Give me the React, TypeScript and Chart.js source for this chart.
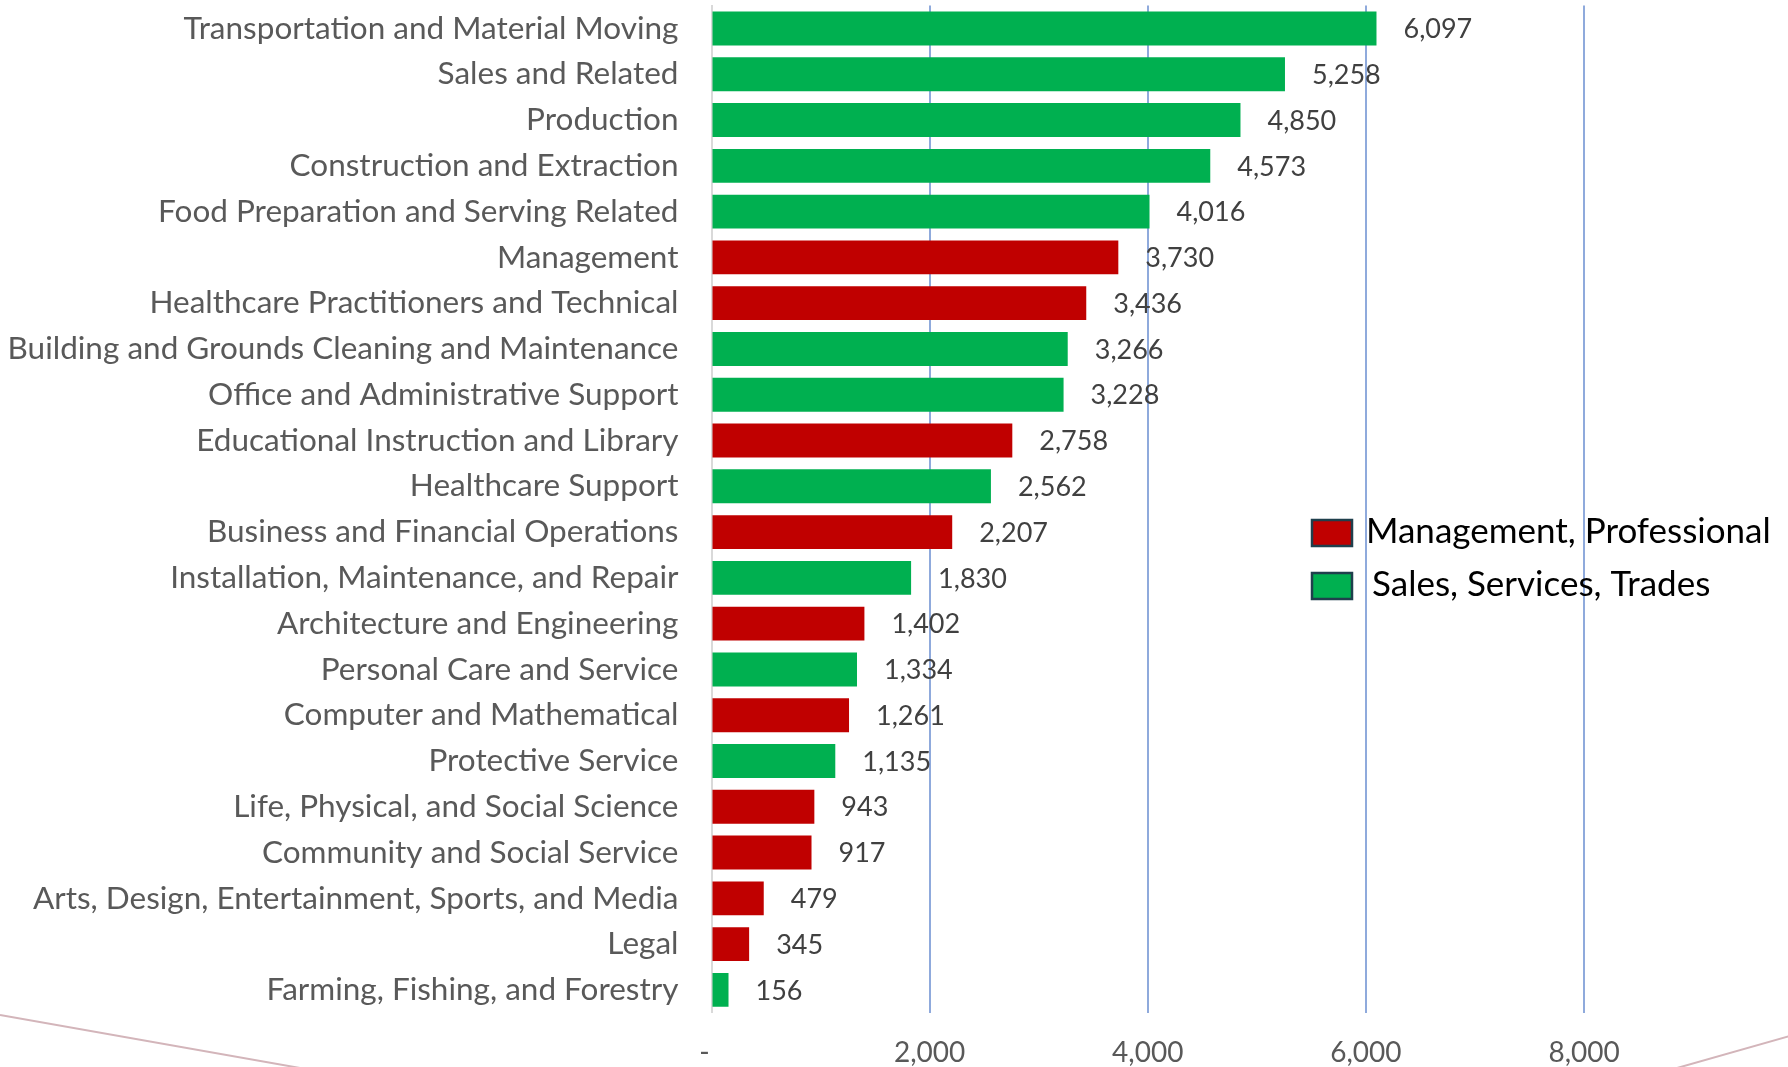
import { useEffect, useRef } from 'react';
import { Chart, registerables } from 'chart.js';

Chart.register(...registerables);

const categories = [
  'Transportation and Material Moving',
  'Sales and Related',
  'Production',
  'Construction and Extraction',
  'Food Preparation and Serving Related',
  'Management',
  'Healthcare Practitioners and Technical',
  'Building and Grounds Cleaning and Maintenance',
  'Office and Administrative Support',
  'Educational Instruction and Library',
  'Healthcare Support',
  'Business and Financial Operations',
  'Installation, Maintenance, and Repair',
  'Architecture and Engineering',
  'Personal Care and Service',
  'Computer and Mathematical',
  'Protective Service',
  'Life, Physical, and Social Science',
  'Community and Social Service',
  'Arts, Design, Entertainment, Sports, and Media',
  'Legal',
  'Farming, Fishing, and Forestry',
];

const values = [6097, 5258, 4850, 4573, 4016, 3730, 3436, 3266, 3228, 2758, 2562, 2207, 1830, 1402, 1334, 1261, 1135, 943, 917, 479, 345, 156];

// 0 = Management, Professional ; 1 = Sales, Services, Trades
const groups = [1, 1, 1, 1, 1, 0, 0, 1, 1, 0, 1, 0, 1, 0, 1, 0, 1, 0, 0, 0, 0, 1];

const legendLabels = ['Management, Professional', 'Sales, Services, Trades'];
const groupColors = ['#C00000', '#00B050'];

const xTickValues = [0, 2000, 4000, 6000, 8000];
const xTickLabels = ['-\u2002', '2,000', '4,000', '6,000', '8,000'];

const FONT = 'Lato, "Open Sans", sans-serif';

const fmt = (v: number) => v.toLocaleString('en-US');

const dataLabelPlugin = {
  id: 'dataLabels',
  afterDatasetsDraw(chart: any) {
    const ctx = chart.ctx;
    const meta = chart.getDatasetMeta(0);
    ctx.save();
    ctx.font = `27px ${FONT}`;
    ctx.fillStyle = '#404040';
    ctx.textAlign = 'left';
    ctx.textBaseline = 'middle';
    meta.data.forEach((el: any, i: number) => {
      ctx.fillText(fmt(values[i]), el.x + 27, el.y + 1);
    });
    ctx.restore();
  },
};

const legendPlugin = {
  id: 'floatLegend',
  afterDraw(chart: any) {
    const ctx = chart.ctx;
    const pos = [
      { bx: 1312, by: 520, tx: 1366 },
      { bx: 1312, by: 573, tx: 1372 },
    ];
    ctx.save();
    legendLabels.forEach((label, i) => {
      const p = pos[i];
      ctx.fillStyle = groupColors[i];
      ctx.fillRect(p.bx, p.by, 40, 26);
      ctx.strokeStyle = '#1F3F4C';
      ctx.lineWidth = 2.5;
      ctx.strokeRect(p.bx, p.by, 40, 26);
      ctx.fillStyle = '#000000';
      ctx.font = `35px ${FONT}`;
      ctx.textAlign = 'left';
      ctx.textBaseline = 'middle';
      ctx.fillText(label, p.tx, p.by + 12);
    });
    ctx.restore();
  },
};

const decorPlugin = {
  id: 'decor',
  beforeDraw(chart: any) {
    const ctx = chart.ctx;
    ctx.save();
    ctx.strokeStyle = '#D3B5BA';
    ctx.lineWidth = 2;
    ctx.beginPath();
    ctx.moveTo(0, 1015);
    ctx.lineTo(300, 1068);
    ctx.moveTo(1677, 1068);
    ctx.lineTo(1790, 1036);
    ctx.stroke();
    ctx.restore();
  },
};

export default function App() {
  const canvasRef = useRef<HTMLCanvasElement | null>(null);

  useEffect(() => {
    document.body.style.margin = '0';
    const canvas = canvasRef.current;
    if (!canvas) return;
    const chart = new Chart(canvas, {
      type: 'bar',
      data: {
        labels: categories,
        datasets: [
          {
            data: values,
            backgroundColor: groups.map((g) => groupColors[g]),
            barPercentage: 0.74,
            categoryPercentage: 1,
          },
        ],
      },
      options: {
        indexAxis: 'y',
        responsive: false,
        animation: false,
        devicePixelRatio: 1,
        layout: { padding: { top: 5.6, left: 0, right: 0, bottom: 0 } },
        plugins: {
          legend: { display: false },
          tooltip: { enabled: false },
        },
        scales: {
          x: {
            type: 'linear',
            min: 0,
            max: 9870,
            afterBuildTicks: (scale: any) => {
              scale.ticks = xTickValues.map((v) => ({ value: v }));
            },
            afterFit: (scale: any) => {
              scale.height = 54.2;
              scale.paddingLeft = 0;
              scale.paddingRight = 0;
            },
            ticks: {
              callback: (v: any) => {
                const idx = xTickValues.indexOf(Number(v));
                return idx >= 0 ? xTickLabels[idx] : '';
              },
              color: '#595959',
              font: { family: FONT, size: 28 },
              padding: 23,
              maxRotation: 0,
              autoSkip: false,
            },
            grid: {
              color: (c: any) => (c.tick && c.tick.value === 0 ? 'rgba(0,0,0,0)' : '#8FAADC'),
              lineWidth: 2,
              drawTicks: false,
            },
            border: { display: false },
          },
          y: {
            afterFit: (scale: any) => {
              scale.width = 711.5;
              scale.paddingTop = 0;
              scale.paddingBottom = 0;
            },
            ticks: {
              color: '#595959',
              font: { family: FONT, size: 31.5 },
              padding: 33,
              autoSkip: false,
            },
            grid: { display: false, drawTicks: false },
            border: { display: true, color: '#D9D9D9', width: 2 },
          },
        },
      } as any,
      plugins: [decorPlugin, dataLabelPlugin, legendPlugin],
    });
    return () => chart.destroy();
  }, []);

  return (
    <div style={{ position: 'absolute', left: 0, top: 0, width: 1788, height: 1067, background: '#fff' }}>
      <canvas ref={canvasRef} width={1788} height={1067} style={{ display: 'block' }} />
    </div>
  );
}
